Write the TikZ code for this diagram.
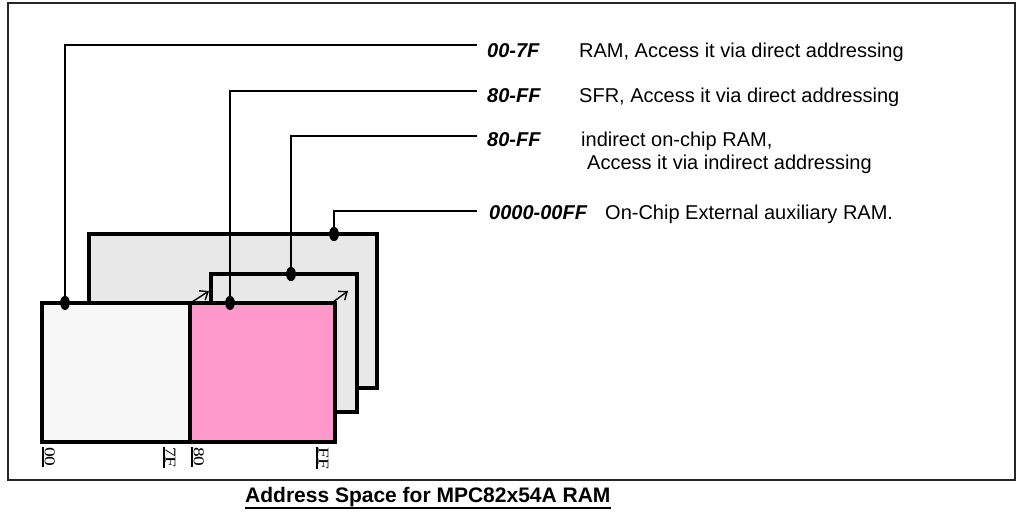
\documentclass[tikz,border=0pt]{standalone}
\usepackage{fontspec}
\setmainfont{Liberation Sans}
\newfontfamily\seriffont{Liberation Serif}
\usetikzlibrary{shapes.geometric,arrows.meta}
\definecolor{backgray}{HTML}{E8E8E8}
\definecolor{frontgray}{HTML}{F7F7F7}
\definecolor{pinkram}{HTML}{FF99CC}
\tikzset{
  box/.style={draw=black, line width=3.8pt, rectangle, inner sep=0pt, outer sep=0pt, anchor=north west},
  conn/.style={draw=black, line width=1.8pt},
  dotmark/.style={ellipse, fill=black, draw=none, minimum width=9.5pt, minimum height=14pt, inner sep=0pt},
  code/.style={font=\fontsize{20}{24}\selectfont\bfseries\itshape, inner sep=0pt, anchor=base west},
  desc/.style={font=\fontsize{20}{24}\selectfont, inner sep=0pt, anchor=base west},
  ticklbl/.style={font=\fontsize{15}{17}\selectfont\seriffont, inner sep=0pt, rotate=-90, anchor=south west},
  tickbar/.style={draw=black, line width=1.3pt},
  smallarrow/.style={draw=black, line width=1.4pt, -{Straight Barb[length=7pt,width=11pt,line width=1.4pt]}},
  frame/.style={draw=black!85, line width=1.6pt}
}
\begin{document}
\begin{tikzpicture}[x=1pt,y=-1pt]
\useasboundingbox (0,0) rectangle (1017,512);
\draw[frame] (8,3) rectangle (1015,480);

% boxes (back to front)
\node[box, fill=backgray, minimum width=288pt, minimum height=154pt] (aux) at (89,234) {};
\node[box, fill=backgray, minimum width=146pt, minimum height=138pt] (ind) at (211,274) {};

% small arrows
\coordinate (a1s) at (192,302); \coordinate (a1e) at (209,291);
\coordinate (a2s) at (333,302); \coordinate (a2e) at (348,291);
\draw[smallarrow] (a1s) -- (a1e);
\draw[smallarrow] (a2s) -- (a2e);

% dots positions
\node[dotmark] (d1) at (65,303) {};
\node[dotmark] (d2) at (230,303) {};
\node[dotmark] (d3) at (291,274) {};
\node[dotmark] (d4) at (334,234) {};

% connector ends
\coordinate (e1) at (477,45);
\coordinate (e2) at (477,91);
\coordinate (e3) at (477,136);
\coordinate (e4) at (477,211);
\draw[conn] (e1) -| (d1.center);
\draw[conn] (e2) -| (d2.center);
\draw[conn] (e3) -| (d3.center);
\draw[conn] (e4) -| (d4.center);

% front boxes
\node[box, fill=frontgray, minimum width=148pt, minimum height=139pt] (ram) at (42,303) {};
\node[box, fill=pinkram, minimum width=145pt, minimum height=139pt] (sfr) at (190,303) {};

% dots on top
\node[dotmark] at (d1) {};
\node[dotmark] at (d2) {};
\node[dotmark] at (d3) {};
\node[dotmark] at (d4) {};

% labels
\node[code] (c1) at (487,57) {00-7F};
\node[desc] (t1) at (579,57) {RAM, Access it via direct addressing};
\node[code] (c2) at (487,102) {80-FF};
\node[desc] (t2) at (579,102) {SFR, Access it via direct addressing};
\node[code] (c3) at (487,146) {80-FF};
\node[desc] (t3) at (581,146) {indirect on-chip RAM,};
\node[desc] (t3b) at (587,169) {Access it via indirect addressing};
\node[code] (c4) at (489,219) {0000-00FF};
\node[desc] (t4) at (605,219) {On-Chip External auxiliary RAM.};

% tick labels
\node[ticklbl] (k00) at (44.5,447) {\scalebox{1.3}[1]{00}};
\node[ticklbl] (k7F) at (165.5,447) {\scalebox{1.3}[1]{7F}};
\node[ticklbl] (k80) at (193.5,447) {\scalebox{1.3}[1]{80}};
\node[ticklbl] (kFF) at (318.5,447) {\scalebox{1.3}[1]{FF}};
\foreach \k in {k00,k7F,k80,kFF}{
  \draw[tickbar] ([xshift=-1.5pt]\k.south west) -- ([xshift=-1.5pt]\k.south east);
}

% title
\node[font=\fontsize{21}{25}\selectfont\bfseries, inner sep=0pt, anchor=base west] (title) at (245,502) {Address Space for MPC82x54A RAM};
\draw[line width=2.2pt] ([yshift=-6pt]title.base west) -- ([yshift=-6pt]title.base east);
\end{tikzpicture}
\end{document}
